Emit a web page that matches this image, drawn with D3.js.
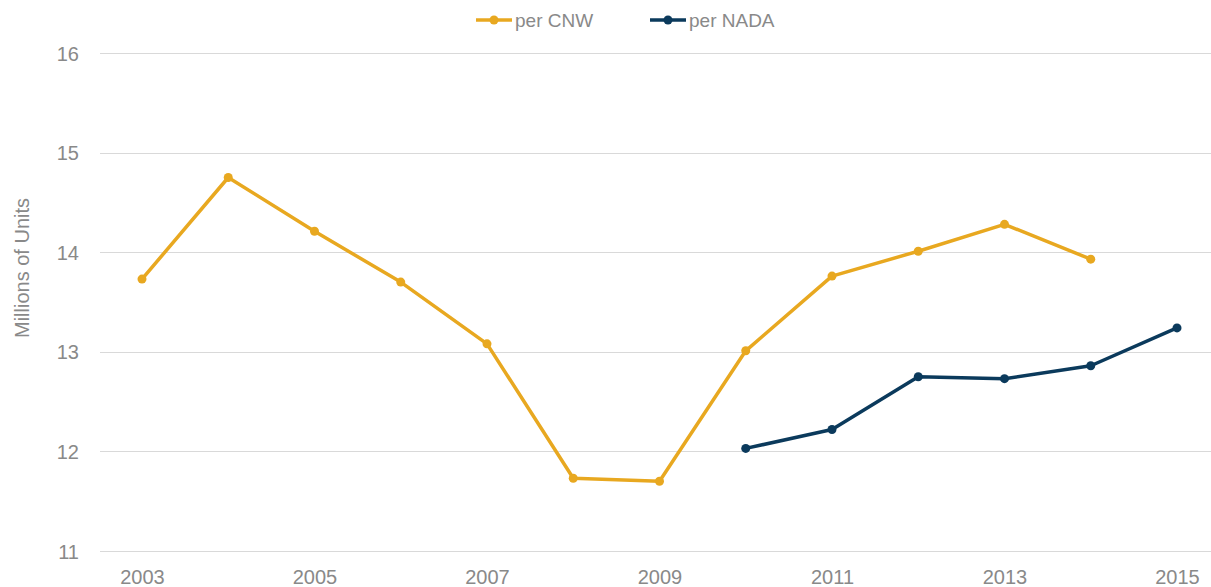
<!DOCTYPE html>
<html><head><meta charset="utf-8">
<script src="https://cdn.jsdelivr.net/npm/d3@7"></script>
<style>body{margin:0;background:#fff;} text{font-family:"Liberation Sans","Arial",sans-serif;}</style>
</head><body>
<svg id="c" width="1211" height="587"></svg>
<script>
const years = [2003,2004,2005,2006,2007,2008,2009,2010,2011,2012,2013,2014,2015];
const cnwYears = [2003,2004,2005,2006,2007,2008,2009,2010,2011,2012,2013,2014];
const cnwValues = [13.73,14.75,14.21,13.70,13.08,11.73,11.70,13.01,13.76,14.01,14.28,13.93];
const nadaYears = [2010,2011,2012,2013,2014,2015];
const nadaValues = [12.03,12.22,12.75,12.73,12.86,13.24];
const yTicks = [11,12,13,14,15,16];
const xTickLabels = [2003,2005,2007,2009,2011,2013,2015];
const seriesNames = ["per CNW","per NADA"];
const colors = ["#E8A820","#0B3A5C"];

const svg = d3.select("#c");
const x = d3.scaleLinear().domain([2003,2015]).range([142,1177]);
const y = d3.scaleLinear().domain([11,16]).range([551,53]);

// gridlines
svg.append("g").selectAll("line").data(yTicks).join("line")
  .attr("x1",100).attr("x2",1211)
  .attr("y1",d=>Math.round(y(d))+0.5).attr("y2",d=>Math.round(y(d))+0.5)
  .attr("stroke","#d9d9d9").attr("stroke-width",1);

// y axis labels
const yAxis = d3.axisLeft(y).tickValues(yTicks).tickFormat(d3.format("d")).tickSize(0).tickPadding(0);
const gy = svg.append("g").attr("transform","translate(79,0)").call(yAxis);
gy.select(".domain").remove();
gy.selectAll("text").attr("fill","#898989").style("font-size","20px").attr("dy","0.35em");

// x axis labels
const xAxis = d3.axisBottom(x).tickValues(xTickLabels).tickFormat(d3.format("d")).tickSize(0).tickPadding(0);
const gx = svg.append("g").attr("transform","translate(0,570)").call(xAxis);
gx.select(".domain").remove();
gx.selectAll("text").attr("fill","#898989").style("font-size","20px").attr("dy","0.71em");

// y axis title
svg.append("text").attr("transform","translate(29,268) rotate(-90)")
  .attr("text-anchor","middle").attr("fill","#898989").style("font-size","20px")
  .text("Millions of Units");

const line = d3.line().x(d=>x(d[0])).y(d=>y(d[1]));
const series = [
  d3.zip(cnwYears,cnwValues),
  d3.zip(nadaYears,nadaValues)
];
series.forEach((s,i)=>{
  svg.append("path").datum(s).attr("d",line).attr("fill","none")
    .attr("stroke",colors[i]).attr("stroke-width",3.5).attr("stroke-linejoin","round");
  svg.append("g").selectAll("circle").data(s).join("circle")
    .attr("cx",d=>x(d[0])).attr("cy",d=>y(d[1])).attr("r",4.5).attr("fill",colors[i]);
});

// legend
const legX = [476,650];
seriesNames.forEach((n,i)=>{
  const g = svg.append("g").attr("transform",`translate(${legX[i]},20)`);
  g.append("line").attr("x1",0).attr("x2",36).attr("y1",0).attr("y2",0)
    .attr("stroke",colors[i]).attr("stroke-width",3.5);
  g.append("circle").attr("cx",18).attr("cy",0).attr("r",4.5).attr("fill",colors[i]);
  g.append("text").attr("x",39).attr("y",0).attr("dy","0.35em")
    .attr("fill","#898989").style("font-size","19px").text(n);
});
</script>
</body></html>
